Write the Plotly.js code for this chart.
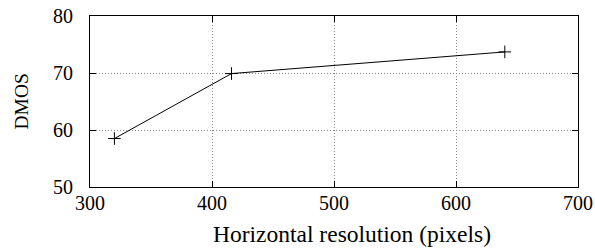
<!DOCTYPE html>
<html>
<head>
<meta charset="utf-8">
<script src="https://cdn.plot.ly/plotly-3.0.1.min.js"></script>
<style>html,body{margin:0;padding:0;background:#fff;}#chart{width:595px;height:248px;}</style>
</head>
<body>
<div id="chart"></div>
<script>
const resolution = [320, 416, 640];
const dmos = [58.5, 69.9, 73.7];
const xTicks = [300, 400, 500, 600, 700];
const yTicks = [50, 60, 70, 80];

const font = "'Liberation Serif', 'Times New Roman', Times, serif";

const trace = {
  x: resolution,
  y: dmos,
  type: 'scatter',
  mode: 'lines+markers',
  line: {color: '#000', width: 1},
  marker: {symbol: 'cross-thin-open', size: 9, color: '#000', line: {color: '#000', width: 1}},
  cliponaxis: false,
  showlegend: false
};

const axisCommon = {
  showline: true, linecolor: '#000', linewidth: 1, mirror: 'all',
  ticks: 'inside', ticklen: 6, tickcolor: '#000', tickwidth: 1,
  showgrid: true, gridcolor: '#888', gridwidth: 1, griddash: '1px,2px',
  zeroline: false,
  tickfont: {family: font, size: 20, color: '#000'}
};

const layout = {
  width: 595, height: 248,
  margin: {l: 90, r: 17, t: 16, b: 61},
  paper_bgcolor: '#fff', plot_bgcolor: '#fff',
  font: {family: font, color: '#000'},
  xaxis: Object.assign({}, axisCommon, {
    range: [300, 700], tickvals: xTicks, ticktext: xTicks.map(String), ticklabelstandoff: -2
  }),
  yaxis: Object.assign({}, axisCommon, {
    range: [50, 80], tickvals: yTicks, ticktext: yTicks.map(String), ticklabelstandoff: 12
  }),
  annotations: [
    {text: 'Horizontal resolution (pixels)', xref: 'paper', yref: 'paper',
     x: (352 - 90) / 488, y: 0, yshift: -47, xanchor: 'center', yanchor: 'middle',
     showarrow: false, font: {family: font, size: 23.5, color: '#000'}},
    {text: 'DMOS', xref: 'paper', yref: 'paper',
     x: 0, xshift: -69, y: 0.5, xanchor: 'center', yanchor: 'middle', textangle: -90,
     showarrow: false, font: {family: font, size: 19.5, color: '#000'}}
  ]
};

Plotly.newPlot('chart', [trace], layout, {staticPlot: true, displayModeBar: false});
</script>
</body>
</html>
